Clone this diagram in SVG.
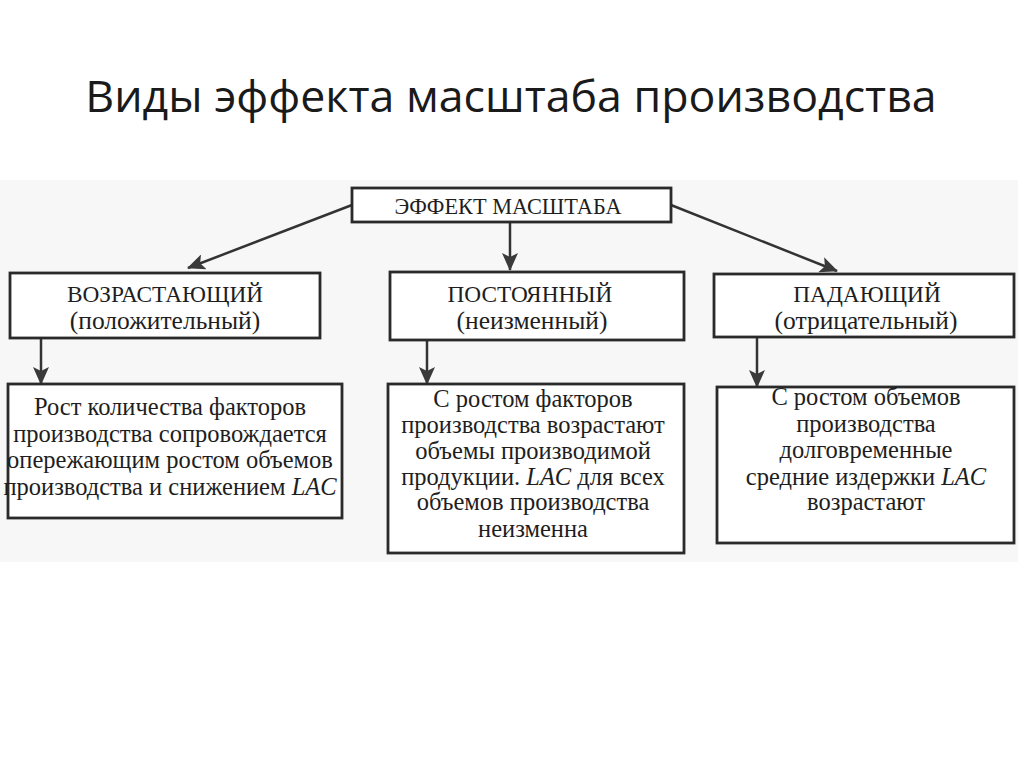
<svg xmlns="http://www.w3.org/2000/svg" width="1024" height="767" viewBox="0 0 1024 767">
<defs>
<marker id="ah" viewBox="0 0 18 16" refX="17" refY="8" markerWidth="18" markerHeight="16" markerUnits="userSpaceOnUse" orient="auto">
<path d="M0,0 L18,8 L0,16 L4,8 Z" fill="#3a3a3a"/>
</marker>
<style>
.box{fill:#ffffff;stroke:#2a2a2a;stroke-width:2.8}
.t{font-family:"Liberation Serif","DejaVu Serif",serif;fill:#1e1e1e;text-anchor:middle}
.h{font-size:22.3px}
.u{font-size:23.3px}
.l{font-size:25.5px}
.b{font-size:24.5px}
.c{stroke:#333333;stroke-width:2.5;fill:none;marker-end:url(#ah)}
.title{font-family:"Open Sans","Liberation Sans",sans-serif;font-size:44.7px;fill:#1a1a1a;text-anchor:middle}
</style>
</defs>
<rect width="1024" height="767" fill="#ffffff"/>
<rect x="0" y="180" width="1018" height="382" fill="#f7f7f7"/>
<text class="title" x="511" y="112">Виды эффекта масштаба производства</text>
<g id="connectors">
<line class="c" x1="352" y1="205" x2="188" y2="268"/>
<line class="c" x1="510" y1="222" x2="510" y2="270"/>
<line class="c" x1="671" y1="205" x2="837" y2="271"/>
<line class="c" x1="41" y1="338" x2="41" y2="384"/>
<line class="c" x1="427" y1="340" x2="427" y2="384"/>
<line class="c" x1="757" y1="337" x2="757" y2="387"/>
</g>
<g id="n-effect">
<rect class="box" x="352" y="188" width="319" height="34"/>
<text class="t h" x="508" y="214">ЭФФЕКТ МАСШТАБА</text>
</g>
<g id="n-increasing">
<rect class="box" x="10" y="273" width="310" height="65"/>
<text class="t u" x="165" y="302">ВОЗРАСТАЮЩИЙ</text>
<text class="t l" x="165" y="329">(положительный)</text>
</g>
<g id="n-constant">
<rect class="box" x="390" y="272" width="294" height="68"/>
<text class="t u" x="530" y="302">ПОСТОЯННЫЙ</text>
<text class="t l" x="532" y="329">(неизменный)</text>
</g>
<g id="n-decreasing">
<rect class="box" x="714" y="274" width="300" height="63"/>
<text class="t u" x="867" y="302">ПАДАЮЩИЙ</text>
<text class="t l" x="866" y="329">(отрицательный)</text>
</g>
<g id="n-increasing-desc">
<rect class="box" x="8" y="384" width="334" height="134"/>
<text class="t b" x="170" y="415">Рост количества факторов</text>
<text class="t b" x="170" y="442">производства сопровождается</text>
<text class="t b" x="170" y="468">опережающим ростом объемов</text>
<text class="t b" x="170" y="495">производства и снижением <tspan font-style="italic">LAC</tspan></text>
</g>
<g id="n-constant-desc">
<rect class="box" x="388" y="384" width="296" height="169"/>
<text class="t b" x="533" y="407">С ростом факторов</text>
<text class="t b" x="533" y="433">производства возрастают</text>
<text class="t b" x="533" y="459">объемы производимой</text>
<text class="t b" x="533" y="485">продукции. <tspan font-style="italic">LAC</tspan> для всех</text>
<text class="t b" x="533" y="510">объемов производства</text>
<text class="t b" x="533" y="537">неизменна</text>
</g>
<g id="n-decreasing-desc">
<rect class="box" x="717" y="387" width="297" height="156"/>
<text class="t b" x="866" y="405">С ростом объемов</text>
<text class="t b" x="866" y="432">производства</text>
<text class="t b" x="866" y="458">долговременные</text>
<text class="t b" x="866" y="485">средние издержки <tspan font-style="italic">LAC</tspan></text>
<text class="t b" x="866" y="510">возрастают</text>
</g>
</svg>
